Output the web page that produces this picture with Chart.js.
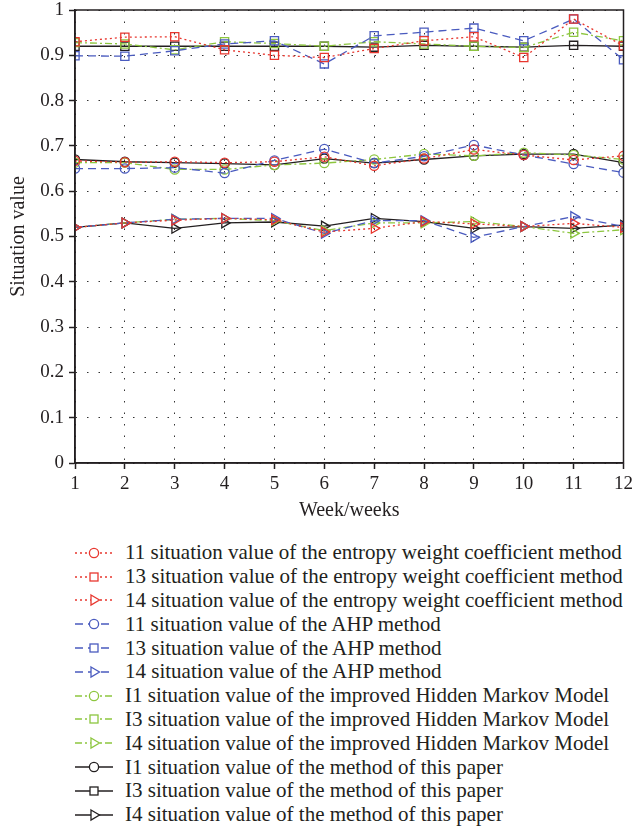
<!DOCTYPE html>
<html>
<head>
<meta charset="utf-8">
<script src="https://cdn.jsdelivr.net/npm/chart.js@4.4.0/dist/chart.umd.min.js"></script>
<style>
  html, body { margin: 0; padding: 0; background: #fff; }
  body { width: 637px; height: 826px; position: relative; overflow: hidden; }
  #wrap { position: absolute; left: 0; top: 0; width: 637px; height: 530px; }
  #legend { position: absolute; left: 72px; top: 541px; font-family: "Liberation Serif", "DejaVu Serif", serif; font-size: 21px; color: #231f20; }
  .row { height: 23.8px; display: flex; align-items: center; white-space: nowrap; }
  .row svg { width: 50px; height: 20px; margin-right: 3px; flex: none; }
</style>
</head>
<body>
<div id="wrap"><canvas id="c" width="637" height="530"></canvas></div>
<div id="legend"></div>
<script>
const weeks = [1, 2, 3, 4, 5, 6, 7, 8, 9, 10, 11, 12];
const yTicks = [0, 0.1, 0.2, 0.3, 0.4, 0.5, 0.6, 0.7, 0.8, 0.9, 1];

const entropyI1 = [0.667, 0.664, 0.665, 0.663, 0.665, 0.676, 0.656, 0.672, 0.692, 0.680, 0.669, 0.678];
const entropyI3 = [0.930, 0.940, 0.941, 0.912, 0.900, 0.895, 0.915, 0.932, 0.941, 0.895, 0.980, 0.921];
const entropyI4 = [0.520, 0.530, 0.536, 0.540, 0.537, 0.510, 0.518, 0.533, 0.528, 0.522, 0.529, 0.520];

const ahpI1 = [0.650, 0.650, 0.652, 0.640, 0.668, 0.693, 0.662, 0.677, 0.702, 0.680, 0.660, 0.641];
const ahpI3 = [0.899, 0.898, 0.910, 0.925, 0.932, 0.881, 0.943, 0.951, 0.960, 0.932, 0.980, 0.890];
const ahpI4 = [0.520, 0.530, 0.538, 0.540, 0.540, 0.507, 0.535, 0.535, 0.498, 0.522, 0.544, 0.522];

const hmmI1 = [0.663, 0.663, 0.648, 0.648, 0.658, 0.662, 0.670, 0.682, 0.678, 0.685, 0.680, 0.670];
const hmmI3 = [0.928, 0.925, 0.912, 0.930, 0.926, 0.920, 0.930, 0.925, 0.920, 0.917, 0.951, 0.932];
const hmmI4 = [0.520, 0.530, 0.538, 0.540, 0.535, 0.513, 0.530, 0.530, 0.533, 0.522, 0.507, 0.515];

const paperI1 = [0.670, 0.665, 0.663, 0.661, 0.658, 0.672, 0.662, 0.670, 0.678, 0.682, 0.682, 0.663];
const paperI3 = [0.920, 0.920, 0.920, 0.920, 0.920, 0.920, 0.918, 0.922, 0.920, 0.918, 0.922, 0.920];
const paperI4 = [0.520, 0.530, 0.518, 0.530, 0.532, 0.523, 0.540, 0.533, 0.518, 0.522, 0.518, 0.525];

const labels = [
  "11 situation value of the entropy weight coefficient method",
  "13 situation value of the entropy weight coefficient method",
  "14 situation value of the entropy weight coefficient method",
  "11 situation value of the AHP method",
  "13 situation value of the AHP method",
  "14 situation value of the AHP method",
  "I1 situation value of the improved Hidden Markov Model",
  "I3 situation value of the improved Hidden Markov Model",
  "I4 situation value of the improved Hidden Markov Model",
  "I1 situation value of the method of this paper",
  "I3 situation value of the method of this paper",
  "I4 situation value of the method of this paper"
];
const seriesValues = [entropyI1, entropyI3, entropyI4, ahpI1, ahpI3, ahpI4, hmmI1, hmmI3, hmmI4, paperI1, paperI3, paperI4];

const RED = '#e8372f', BLUE = '#4a5bbf', GREEN = '#8dc63f', BLACK = '#231f20';
const methodStyles = [
  { color: RED, dash: [2, 3] },
  { color: BLUE, dash: [8, 5] },
  { color: GREEN, dash: [7, 3, 2, 3] },
  { color: BLACK, dash: [] }
];
const markerStyles = [
  { pointStyle: 'circle', radius: 4.6, rotation: 0 },
  { pointStyle: 'rect', radius: 5.8, rotation: 0 },
  { pointStyle: 'triangle', radius: 5.6, rotation: 90 }
];

const datasets = seriesValues.map((vals, i) => {
  const m = methodStyles[Math.floor(i / 3)];
  const k = markerStyles[i % 3];
  return {
    label: labels[i],
    data: weeks.map((w, j) => ({ x: w, y: vals[j] })),
    borderColor: m.color,
    borderDash: m.dash,
    borderWidth: 1.3,
    backgroundColor: 'rgba(0,0,0,0)',
    pointStyle: k.pointStyle,
    pointRadius: k.radius,
    pointRotation: k.rotation,
    pointBorderColor: m.color,
    pointBorderWidth: 1.3,
    pointBackgroundColor: 'rgba(0,0,0,0)',
    tension: 0,
    fill: false
  };
});

const framePlugin = {
  id: 'frame',
  afterDraw(chart) {
    const a = chart.chartArea, ctx = chart.ctx;
    ctx.save();
    ctx.strokeStyle = '#231f20';
    ctx.lineWidth = 1.5;
    ctx.setLineDash([]);
    ctx.strokeRect(a.left, a.top, a.right - a.left, a.bottom - a.top);
    ctx.restore();
  }
};

const SERIF = 'Liberation Serif, DejaVu Serif, serif';
Chart.defaults.font.family = SERIF;
const tickFont = { family: SERIF, size: 19 };
const titleFont = { family: SERIF, size: 20 };

new Chart(document.getElementById('c'), {
  type: 'line',
  data: { datasets },
  options: {
    responsive: false,
    animation: false,
    layout: { padding: { top: 10, right: 10, left: 0, bottom: 0 } },
    plugins: { legend: { display: false }, tooltip: { enabled: false } },
    scales: {
      x: {
        type: 'linear',
        min: 1, max: 12,
        afterFit(s) { s.height = 67; },
        ticks: { stepSize: 1, color: '#231f20', font: tickFont, padding: 4, maxRotation: 0 },
        grid: { color: '#333', lineWidth: 1, tickLength: 6, tickColor: '#231f20', tickWidth: 1.5, tickBorderDash: [] },
        border: { display: true, color: '#231f20', width: 1.5, dash: [1.5, 10] },
        title: { display: true, text: 'Week/weeks', color: '#231f20', font: titleFont, padding: { top: 0, bottom: 7 } }
      },
      y: {
        min: 0, max: 1,
        afterFit(s) { s.width = 75; s.paddingTop = 0; s.paddingBottom = 0; },
        afterBuildTicks(s) { s.ticks = yTicks.map(v => ({ value: v })); },
        ticks: { color: '#231f20', font: tickFont, padding: 5, callback: v => String(+v.toFixed(1)) },
        grid: { color: '#333', lineWidth: 1, tickLength: 6, tickColor: '#231f20', tickWidth: 1.5, tickBorderDash: [] },
        border: { display: true, color: '#231f20', width: 1.5, dash: [1.5, 10] },
        title: { display: true, text: 'Situation value', color: '#231f20', font: titleFont, padding: { top: 7, bottom: 0 } }
      }
    }
  },
  plugins: [framePlugin]
});

// HTML legend built from dataset styles
const legend = document.getElementById('legend');
const NS = 'http://www.w3.org/2000/svg';
datasets.forEach(ds => {
  const row = document.createElement('div');
  row.className = 'row';
  const svg = document.createElementNS(NS, 'svg');
  svg.setAttribute('viewBox', '0 0 50 20');
  const line = document.createElementNS(NS, 'line');
  line.setAttribute('x1', 3); line.setAttribute('x2', 41);
  line.setAttribute('y1', 10); line.setAttribute('y2', 10);
  line.setAttribute('stroke', ds.borderColor);
  line.setAttribute('stroke-width', 1.3);
  if (ds.borderDash.length) line.setAttribute('stroke-dasharray', ds.borderDash.join(' '));
  svg.appendChild(line);
  let mk;
  const cx = 22, cy = 10;
  if (ds.pointStyle === 'circle') {
    mk = document.createElementNS(NS, 'circle');
    mk.setAttribute('cx', cx); mk.setAttribute('cy', cy); mk.setAttribute('r', 4.6);
  } else if (ds.pointStyle === 'rect') {
    mk = document.createElementNS(NS, 'rect');
    mk.setAttribute('x', cx - 4); mk.setAttribute('y', cy - 4);
    mk.setAttribute('width', 8); mk.setAttribute('height', 8);
  } else {
    mk = document.createElementNS(NS, 'polygon');
    mk.setAttribute('points', `${cx - 3},${cy - 5} ${cx + 5.5},${cy} ${cx - 3},${cy + 5}`);
  }
  mk.setAttribute('fill', '#fff');
  mk.setAttribute('stroke', ds.borderColor);
  mk.setAttribute('stroke-width', 1.3);
  svg.appendChild(mk);
  row.appendChild(svg);
  const span = document.createElement('span');
  span.textContent = ds.label;
  row.appendChild(span);
  legend.appendChild(row);
});
</script>
</body>
</html>
